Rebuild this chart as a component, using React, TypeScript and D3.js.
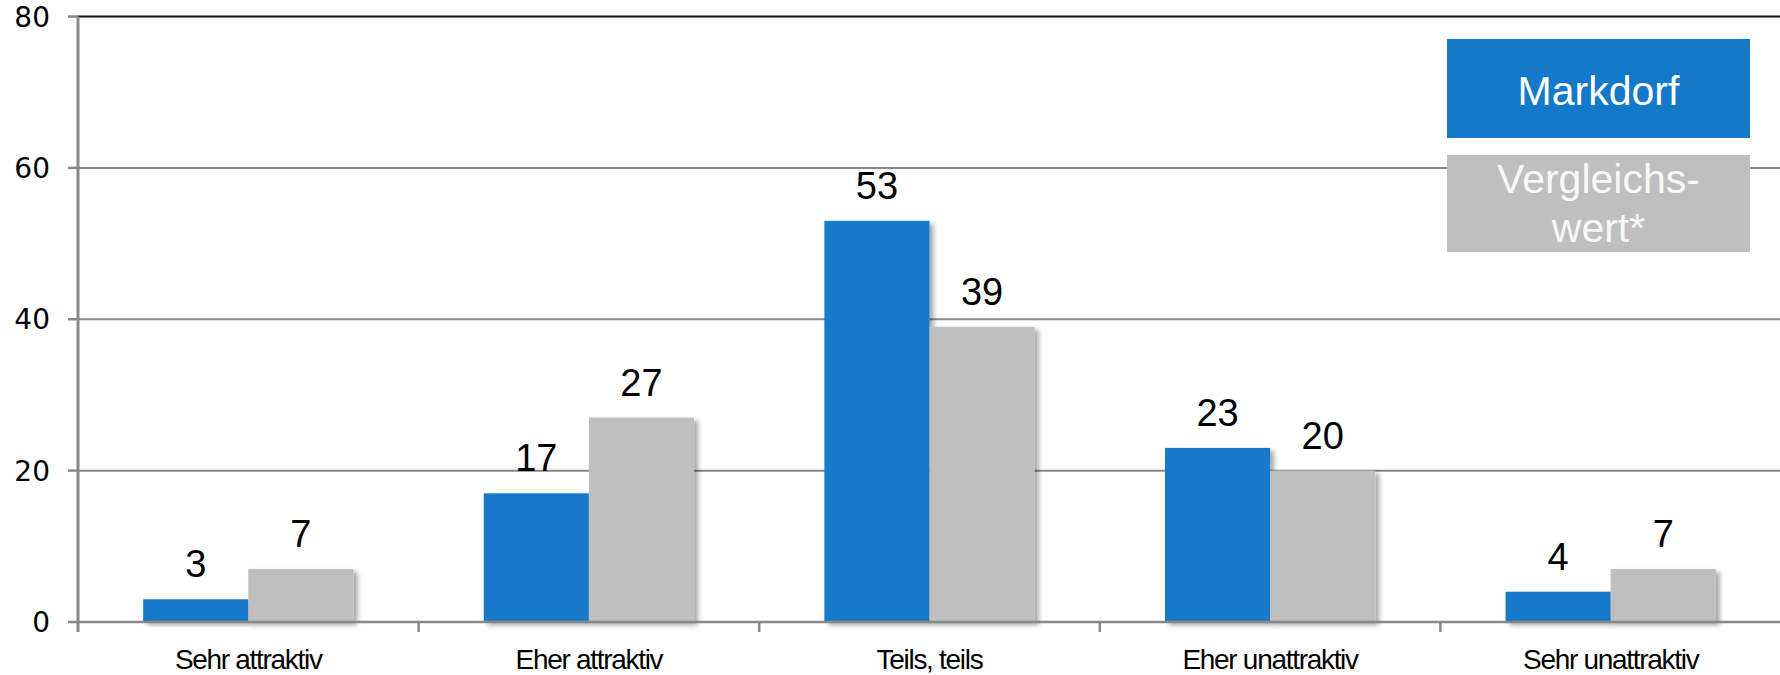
import React from "react";
import * as d3 from "d3";

const categories = ["Sehr attraktiv", "Eher attraktiv", "Teils, teils", "Eher unattraktiv", "Sehr unattraktiv"];
const seriesNames = ["Markdorf", "Vergleichswert*"];
const markdorf = [3, 17, 53, 23, 4];
const vergleich = [7, 27, 39, 20, 7];
const yTicks = [0, 20, 40, 60, 80];
const colors = ["#1479C9", "#BFBFBF"];

const W = 1780;
const H = 675;
const left = 78;
const right = 1781;
const top = 16.5;
const bottom = 622;

export default function App() {
  const x = d3.scaleBand<string>().domain(categories).range([left, right]).paddingInner(0).paddingOuter(0);
  const y = d3.scaleLinear().domain([0, 80]).range([bottom, top]);
  const inner = d3.scaleBand<number>().domain([0, 1]).range([0, x.bandwidth()]).paddingOuter(0.62).paddingInner(0);
  const series = [markdorf, vergleich];
  const bw = inner.bandwidth();

  return (
    <svg width={W} height={H} style={{ position: "absolute", left: 0, top: 0, background: "#fff" }}>
      <defs>
        <filter id="sh" x="-20%" y="-20%" width="140%" height="140%">
          <feDropShadow dx="4" dy="3" stdDeviation="2.5" floodColor="#000" floodOpacity="0.35" />
        </filter>
      </defs>
      {yTicks.map((t) => (
        <g key={t}>
          <line x1={left - 10} x2={left} y1={y(t)} y2={y(t)} stroke="#888" strokeWidth={2.5} />
          {t > 0 && (
            <line x1={left} x2={W} y1={y(t)} y2={y(t)} stroke={t === 80 ? "#111" : "#888"} strokeWidth={2} />
          )}
          <text x={50} y={y(t)} dy="0.36em" textAnchor="end" fontFamily="DejaVu Sans" fontSize={28} fill="#000">
            {t}
          </text>
        </g>
      ))}
      {categories.map((c, i) => (
        <g key={c}>
          {series.map((s, j) => (
            <rect
              key={j}
              x={(x(c) as number) + (inner(j) as number)}
              y={y(s[i])}
              width={bw}
              height={bottom - y(s[i])}
              fill={colors[j]}
              filter="url(#sh)"
            />
          ))}
        </g>
      ))}
      <line x1={left} x2={W} y1={bottom} y2={bottom} stroke="#888" strokeWidth={2.5} />
      <line x1={left} x2={left} y1={top} y2={bottom + 10} stroke="#888" strokeWidth={3} />
      {categories.map((c, i) =>
        i > 0 ? (
          <line key={c} x1={x(c)} x2={x(c)} y1={bottom} y2={bottom + 10} stroke="#888" strokeWidth={2.5} />
        ) : null
      )}
      {categories.map((c, i) =>
        series.map((s, j) => (
          <text
            key={c + j}
            x={(x(c) as number) + (inner(j) as number) + bw / 2}
            y={y(s[i]) - 22}
            textAnchor="middle"
            fontFamily="Liberation Sans"
            fontSize={38}
            fill="#000"
          >
            {s[i]}
          </text>
        ))
      )}
      {categories.map((c) => (
        <text
          key={c}
          x={(x(c) as number) + x.bandwidth() / 2}
          y={669}
          textAnchor="middle"
          fontFamily="Liberation Sans"
          fontSize={28}
          letterSpacing={-1.3}
          fill="#000"
        >
          {c}
        </text>
      ))}
      <rect x={1447} y={39} width={303} height={99} fill={colors[0]} />
      <text x={1598.5} y={105} textAnchor="middle" fontFamily="Liberation Sans" fontSize={41} fill="#fff">
        {seriesNames[0]}
      </text>
      <rect x={1447} y={155} width={303} height={97} fill={colors[1]} />
      <text x={1598.5} y={193} textAnchor="middle" fontFamily="Liberation Sans" fontSize={41} fill="#f8f8f8">
        Vergleichs-
      </text>
      <text x={1598.5} y={242} textAnchor="middle" fontFamily="Liberation Sans" fontSize={41} fill="#f8f8f8">
        wert*
      </text>
    </svg>
  );
}
